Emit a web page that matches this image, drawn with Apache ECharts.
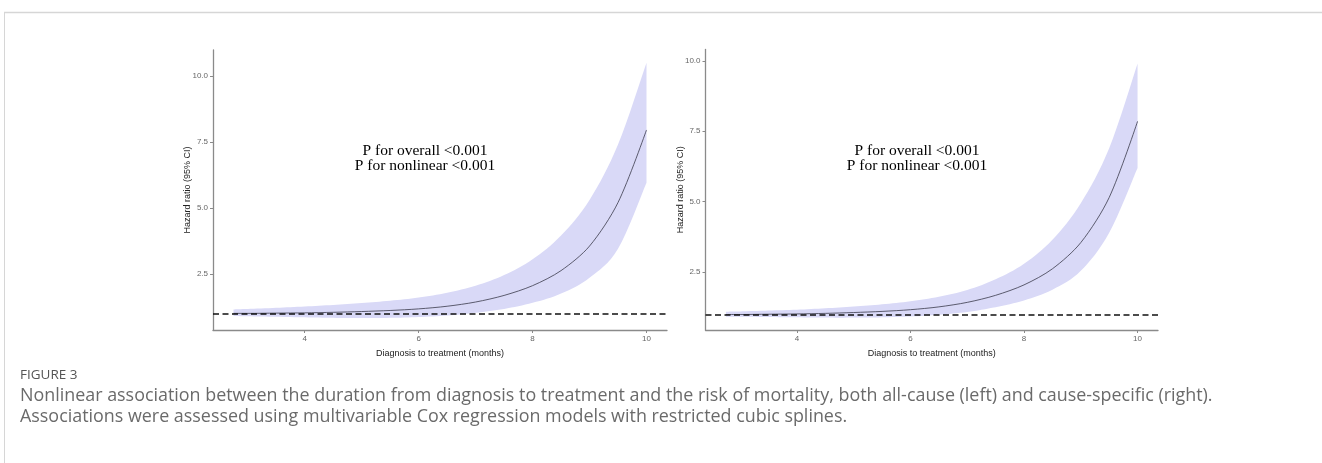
<!DOCTYPE html>
<html>
<head>
<meta charset="utf-8">
<script src="https://cdn.jsdelivr.net/npm/echarts@6/dist/echarts.min.js"></script>
<style>html,body{margin:0;padding:0;background:#fff;}#c{width:1322px;height:463px;}</style>
</head>
<body>
<div id="c"></div>
<script>
// ---- data ----
const months = [2.75, 3, 3.5, 4, 4.5, 5, 5.5, 6, 6.5, 7, 7.5, 8, 8.5, 9, 9.5, 10];
// left panel: all-cause
const leftHR    = [1.00, 1.00, 1.01, 1.02, 1.04, 1.07, 1.11, 1.17, 1.27, 1.43, 1.68, 2.05, 2.62, 3.55, 5.20, 7.95];
const leftUpper = [1.15, 1.17, 1.21, 1.26, 1.32, 1.39, 1.48, 1.60, 1.78, 2.05, 2.45, 3.05, 3.95, 5.30, 7.40, 10.50];
const leftLower = [0.90, 0.89, 0.87, 0.85, 0.83, 0.82, 0.83, 0.86, 0.92, 1.02, 1.17, 1.40, 1.75, 2.35, 3.45, 5.95];
// right panel: cause-specific
const rightHR    = [1.00, 1.00, 1.01, 1.02, 1.04, 1.07, 1.11, 1.17, 1.27, 1.43, 1.68, 2.05, 2.62, 3.55, 5.15, 7.85];
const rightUpper = [1.10, 1.11, 1.14, 1.17, 1.22, 1.28, 1.36, 1.47, 1.63, 1.87, 2.25, 2.80, 3.65, 4.95, 6.90, 9.90];
const rightLower = [0.92, 0.92, 0.91, 0.90, 0.89, 0.89, 0.90, 0.93, 0.99, 1.09, 1.26, 1.50, 1.88, 2.55, 3.90, 6.20];
const xTicks = [4, 6, 8, 10];
const yTicks = [2.5, 5.0, 7.5, 10.0];
const refHR = 1;
const xTitle = 'Diagnosis to treatment (months)';
const yTitle = 'Hazard ratio (95% CI)';
const pText = ['P for overall <0.001', 'P for nonlinear <0.001'];
const figLabel = 'FIGURE 3';
const caption = [
  'Nonlinear association between the duration from diagnosis to treatment and the risk of mortality, both all-cause (left) and cause-specific (right).',
  'Associations were assessed using multivariable Cox regression models with restricted cubic splines.'
];

// ---- chart ----
const pairs = (xs, ys) => xs.map((x, i) => [x, ys[i]]);

// Catmull-Rom smoothing of pixel points (drawing only)
function smoothPts(p, steps) {
  const out = [];
  for (let i = 0; i < p.length - 1; i++) {
    const p0 = p[Math.max(i - 1, 0)], p1 = p[i], p2 = p[i + 1], p3 = p[Math.min(i + 2, p.length - 1)];
    for (let s = 0; s < steps; s++) {
      const t = s / steps, t2 = t * t, t3 = t2 * t;
      out.push([0, 1].map(k => 0.5 * ((2 * p1[k]) + (-p0[k] + p2[k]) * t +
        (2 * p0[k] - 5 * p1[k] + 4 * p2[k] - p3[k]) * t2 + (-p0[k] + 3 * p1[k] - 3 * p2[k] + p3[k]) * t3)));
    }
  }
  out.push(p[p.length - 1].slice());
  return out;
}

const axisCol = '#8a8a8a';
function xAx(gi) {
  return {
    type: 'value', gridIndex: gi, min: 2.39, max: 10.36,
    name: xTitle, nameLocation: 'middle', nameGap: 19,
    nameTextStyle: {fontSize: 9, color: '#222', fontFamily: 'Liberation Sans'},
    splitLine: {show: false},
    axisLine: {lineStyle: {color: axisCol, width: 1.3}},
    axisTick: {length: 3, lineStyle: {color: axisCol}, customValues: xTicks},
    axisLabel: {fontSize: 8, color: '#666', margin: 5, fontFamily: 'Liberation Sans', customValues: xTicks}
  };
}
function yAx(gi, min, max, gap) {
  return {
    type: 'value', gridIndex: gi, min: min, max: max,
    name: yTitle, nameLocation: 'middle', nameGap: gap, nameMoveOverlap: false,
    nameTextStyle: {fontSize: 9, color: '#222', fontFamily: 'Liberation Sans'},
    splitLine: {show: false},
    axisLine: {show: true, lineStyle: {color: axisCol, width: 1.3}},
    axisTick: {show: true, length: 3, lineStyle: {color: axisCol}, customValues: yTicks},
    axisLabel: {fontSize: 8, color: '#666', margin: 5, fontFamily: 'Liberation Sans',
      customValues: yTicks, formatter: v => v.toFixed(1)}
  };
}
function bandSeries(gi, hr, up, lo) {
  const bandData = months.map((x, i) => [x, lo[i], up[i]]);
  return [
    {type: 'custom', xAxisIndex: gi, yAxisIndex: gi, data: bandData, silent: true, z: 1,
     encode: {x: 0, y: [1, 2]},
     renderItem: function (params, api) {
       if (params.dataIndex !== 0) return null;
       const upP = bandData.map(d => api.coord([d[0], d[2]]));
       const loP = bandData.map(d => api.coord([d[0], d[1]]));
       const pts = smoothPts(upP, 8).concat(smoothPts(loP, 8).reverse());
       return {type: 'polygon', shape: {points: pts}, style: {fill: '#d9d9f7'}};
     }},
    {type: 'line', xAxisIndex: gi, yAxisIndex: gi, data: pairs(months, hr),
     symbol: 'none', smooth: 0.3, lineStyle: {color: '#3a3a4a', width: 0.8}, z: 3,
     markLine: {silent: true, symbol: 'none', label: {show: false},
       lineStyle: {color: '#111', width: 1.7, type: [6, 3.5]},
       data: [{yAxis: refHR}]}}
  ];
}
function pTexts(cx) {
  return pText.map((t, i) => ({
    type: 'text', x: cx, y: 151 + i * 15,
    style: {text: t, font: '15.5px "Liberation Serif"', fill: '#000', align: 'center', verticalAlign: 'middle'}
  }));
}

const chart = echarts.init(document.getElementById('c'), null, {renderer: 'canvas'});
chart.setOption({
  animation: false,
  backgroundColor: '#fff',
  grid: [
    {left: 213, top: 50, width: 454, height: 280},
    {left: 705.5, top: 49.5, width: 452.5, height: 280.5}
  ],
  xAxis: [xAx(0), xAx(1)],
  yAxis: [yAx(0, 0.37, 10.98, 21), yAx(1, 0.45, 10.4, 20)],
  series: [].concat(
    bandSeries(0, leftHR, leftUpper, leftLower),
    bandSeries(1, rightHR, rightUpper, rightLower)
  ),
  graphic: [
    {type: 'line', shape: {x1: 4, y1: 12.5, x2: 1322, y2: 12.5}, style: {stroke: '#d6d6d6', lineWidth: 1.5}},
    {type: 'line', shape: {x1: 4.5, y1: 12, x2: 4.5, y2: 463}, style: {stroke: '#d6d6d6', lineWidth: 1}},
    {type: 'text', x: 20, y: 375, style: {text: figLabel, font: '13.5px "Open Sans"', fill: '#555', verticalAlign: 'middle'}},
    {type: 'text', x: 20, y: 396, style: {text: caption[0], font: '17.9px "Open Sans"', fill: '#6a6a6a', verticalAlign: 'middle'}},
    {type: 'text', x: 20, y: 417, style: {text: caption[1], font: '17.9px "Open Sans"', fill: '#6a6a6a', verticalAlign: 'middle'}}
  ].concat(pTexts(425), pTexts(917))
});
</script>
</body>
</html>
